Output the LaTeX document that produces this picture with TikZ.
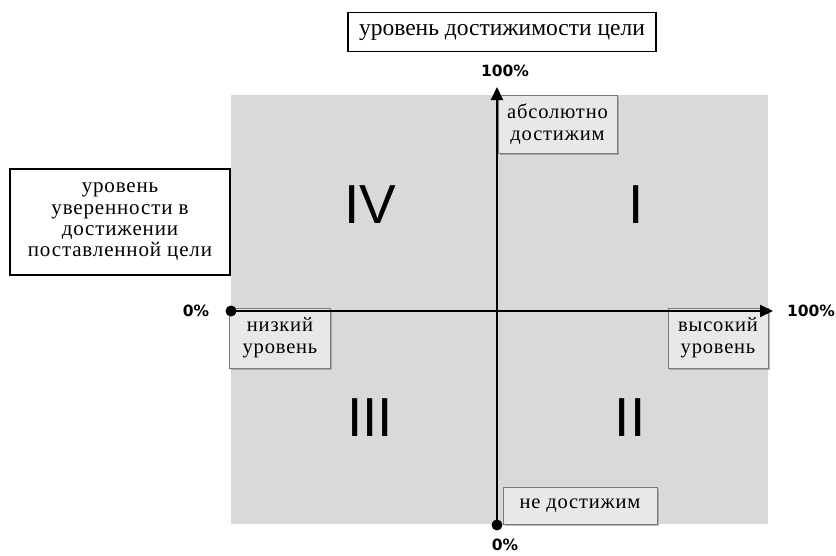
\documentclass[tikz,border=0pt]{standalone}
\usepackage{fontspec}
\setmainfont{Liberation Serif}
\newfontfamily\tagfont[LetterSpace=4]{Liberation Serif}
\newfontfamily\numfont{DejaVu Sans}
\newfontfamily\romfont{Liberation Sans}
\usepackage{xcolor}
\usetikzlibrary{arrows.meta,positioning,shadows}
\definecolor{Field}{HTML}{D9D9D9}
\definecolor{Tag}{HTML}{E8E8E8}
\definecolor{TagLine}{HTML}{7A7A7A}

\begin{document}
\begin{tikzpicture}[x=1pt,y=-1pt,font=\tagfont\fontsize{20.5}{22}\selectfont]
  \useasboundingbox (0,0) rectangle (836,555);
  \tikzset{
    titlebox/.style={draw,line width=1.6pt,fill=white,align=center,inner sep=0pt},
    tagbox/.style={draw=TagLine,line width=0.8pt,fill=Tag,align=center,inner sep=0pt,
      drop shadow={shadow xshift=1.5pt,shadow yshift=-1.5pt,fill=black!45,opacity=0.6}},
    pct/.style={font=\numfont\bfseries\fontsize{15.5}{17}\selectfont},
    quad/.style={font=\romfont\fontsize{55}{58}\selectfont},
    dot/.style={circle,fill=black,inner sep=0pt,minimum size=11pt},
    axis/.style={line width=2pt,-{Triangle[length=13pt,width=12pt]}},
  }
  % field
  \fill[Field] (231,95) rectangle (768,524);
  % percent marks
  \node[pct] (ytop) at (505,71){100\%};
  \node[pct] (ybot) at (505,545){0\%};
  \node[pct] (xleft) at (196,311){0\%};
  \node[pct] (xright) at (811,311){100\%};
  % titles
  \node[titlebox,minimum width=308pt,minimum height=39pt,font=\rmfamily\fontsize{23.5}{24}\selectfont] (ttl) at (502,32){уровень достижимости цели};
  \node[titlebox,minimum width=220pt,minimum height=106pt,font=\tagfont\fontsize{21}{21.3}\selectfont] (side) at (120,222)
    {уровень\\уверенности в\\достижении\\поставленной цели};
  % tags
  \node[tagbox,minimum width=119pt,minimum height=58pt] (hi) at (557.5,124){абсолютно\\достижим};
  \node[tagbox,minimum width=101pt,minimum height=60pt] (lo) at (280,338){низкий\\уровень};
  \node[tagbox,minimum width=100pt,minimum height=60pt] (hx) at (718,338){высокий\\уровень};
  \node[tagbox,minimum width=154pt,minimum height=37pt] (no) at (580,505.5){не достижим};
  % quadrants
  \node[quad] (q4) at (370,205){IV};
  \node[quad] (q1) at (636,205){I};
  \node[quad] (q3) at (370,418){III};
  \node[quad] (q2) at (630,418){II};
  % axes
  \node[dot] (xorig) at (231,311){};
  \node[dot] (yorig) at (497,525){};
  \coordinate (xend) at (773,311);
  \coordinate (yend) at (497,87);
  \draw[axis] (xorig.center) -- (xend);
  \draw[axis] (yorig.center) -- (yend);
\end{tikzpicture}
\end{document}
